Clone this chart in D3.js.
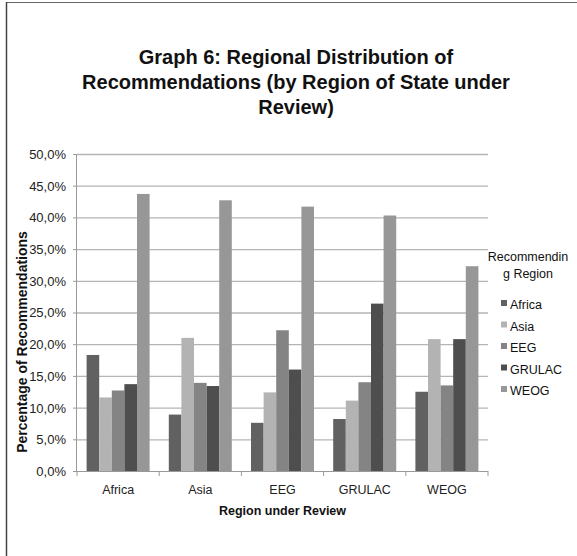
<!DOCTYPE html>
<html>
<head>
<meta charset="utf-8">
<script src="https://cdn.jsdelivr.net/npm/d3@7"></script>
<style>
  body { margin: 0; background: #fff; }
  svg { display: block; font-family: "Liberation Sans", Arial, sans-serif; }
</style>
</head>
<body>
<div id="chart"></div>
<script>
// regions under review (x categories) and recommending regions (series)
const reviewRegions = ["Africa", "Asia", "EEG", "GRULAC", "WEOG"];
const recRegions = ["Africa", "Asia", "EEG", "GRULAC", "WEOG"];
const seriesColors = ["#616161", "#b3b3b3", "#848484", "#4e4e4e", "#979797"];

// percentage values, one list per recommending region, ordered by region under review
const africaVals = [18.3, 8.9, 7.6, 8.2, 12.5];
const asiaVals = [11.6, 21.0, 12.4, 11.1, 20.8];
const eegVals = [12.7, 13.9, 22.2, 14.0, 13.5];
const grulacVals = [13.7, 13.4, 16.0, 26.4, 20.8];
const weogVals = [43.7, 42.7, 41.7, 40.3, 32.3];
const yTicks = [0, 5, 10, 15, 20, 25, 30, 35, 40, 45, 50];

const seriesVals = [africaVals, asiaVals, eegVals, grulacVals, weogVals];

const width = 577, height = 556;
const plot = { left: 77, right: 488, top: 154, bottom: 471 };

const svg = d3.select("#chart").append("svg")
    .attr("width", width)
    .attr("height", height);

// outer frame (only top and left edges show)
svg.append("line").attr("x1", 6).attr("x2", width).attr("y1", 2.5).attr("y2", 2.5)
    .attr("stroke", "#666").attr("stroke-width", 1.2);
svg.append("line").attr("x1", 6.5).attr("x2", 6.5).attr("y1", 2).attr("y2", height)
    .attr("stroke", "#444").attr("stroke-width", 1.5);

const x = d3.scaleBand().domain(reviewRegions).range([plot.left, plot.right]);
const x1 = d3.scaleBand().domain(recRegions).range([9.6, x.bandwidth() - 9.6]);
const y = d3.scaleLinear().domain([0, 50]).range([plot.bottom, plot.top]);

const fmt = d3.formatLocale({ decimal: ",", thousands: ".", grouping: [3], currency: ["", ""] })
    .format(".1f");

// gridlines
svg.append("g")
    .attr("transform", `translate(${plot.left},0)`)
    .call(d3.axisLeft(y).tickValues(yTicks.filter(t => t > 0)).tickSize(-(plot.right - plot.left)).tickFormat(""))
    .call(g => g.select(".domain").remove())
    .call(g => g.selectAll("line").attr("stroke", "#b5b5b5").attr("stroke-width", 1.3));

// bars
const groups = svg.append("g").selectAll("g")
    .data(reviewRegions)
    .join("g")
    .attr("transform", d => `translate(${x(d)},0)`);

groups.selectAll("rect")
    .data((d, i) => recRegions.map((r, j) => ({ r, j, v: seriesVals[j][i] })))
    .join("rect")
    .attr("x", d => x1(d.r))
    .attr("width", x1.bandwidth())
    .attr("y", d => y(d.v))
    .attr("height", d => y(0) - y(d.v))
    .attr("fill", d => seriesColors[d.j]);

// y axis
svg.append("g")
    .attr("transform", `translate(${plot.left},0)`)
    .call(d3.axisLeft(y).tickValues(yTicks).tickSize(4).tickPadding(7).tickFormat(d => fmt(d) + "%"))
    .call(g => g.select(".domain").attr("stroke", "#999").attr("d", `M-0.5,${plot.top}V${plot.bottom}`))
    .call(g => g.selectAll("line").attr("stroke", "#999"))
    .call(g => g.selectAll("text").attr("fill", "#222").style("font-size", "13px").attr("dy", "0.34em"));

// x axis
const xg = svg.append("g")
    .attr("transform", `translate(0,${plot.bottom})`)
    .call(d3.axisBottom(x).tickSize(0).tickPadding(14))
    .call(g => g.select(".domain").attr("stroke", "#999").attr("d", `M${plot.left},0.5H${plot.right}`))
    .call(g => g.selectAll("text").attr("fill", "#222").style("font-size", "12.5px"));

xg.selectAll(".bound")
    .data(reviewRegions.concat([null]))
    .join("line")
    .attr("class", "bound")
    .attr("x1", (d, i) => plot.left + i * x.step())
    .attr("x2", (d, i) => plot.left + i * x.step())
    .attr("y1", 0).attr("y2", 5)
    .attr("stroke", "#999");

// titles
const title = svg.append("text")
    .attr("text-anchor", "middle")
    .style("font-size", "20px")
    .style("font-weight", "bold")
    .attr("fill", "#111");
["Graph 6: Regional Distribution of", "Recommendations (by Region of State under", "Review)"]
    .forEach((t, i) => title.append("tspan").attr("x", 296).attr("y", 64 + i * 25).text(t));

svg.append("text")
    .attr("x", (plot.left + plot.right) / 2)
    .attr("y", 515)
    .attr("text-anchor", "middle")
    .style("font-size", "12.5px")
    .style("font-weight", "bold")
    .attr("fill", "#111")
    .text("Region under Review");

svg.append("text")
    .attr("transform", "translate(27,342) rotate(-90)")
    .attr("text-anchor", "middle")
    .style("font-size", "14px")
    .style("font-weight", "bold")
    .attr("fill", "#111")
    .text("Percentage of Recommendations");

// legend
const legendTitle = svg.append("text")
    .attr("text-anchor", "middle")
    .style("font-size", "12.5px")
    .attr("fill", "#111");
["Recommendin", "g Region"].forEach((t, i) =>
    legendTitle.append("tspan").attr("x", 528).attr("y", 261 + i * 17).text(t));

const legend = svg.append("g").selectAll("g")
    .data(recRegions)
    .join("g")
    .attr("transform", (d, i) => `translate(501,${305 + i * 21.5})`);

legend.append("rect")
    .attr("x", 0).attr("y", -5)
    .attr("width", 6).attr("height", 6)
    .attr("fill", (d, i) => seriesColors[i]);

legend.append("text")
    .attr("x", 9)
    .attr("dy", "0.35em")
    .style("font-size", "12.5px")
    .attr("fill", "#111")
    .text(d => d);
</script>
</body>
</html>
